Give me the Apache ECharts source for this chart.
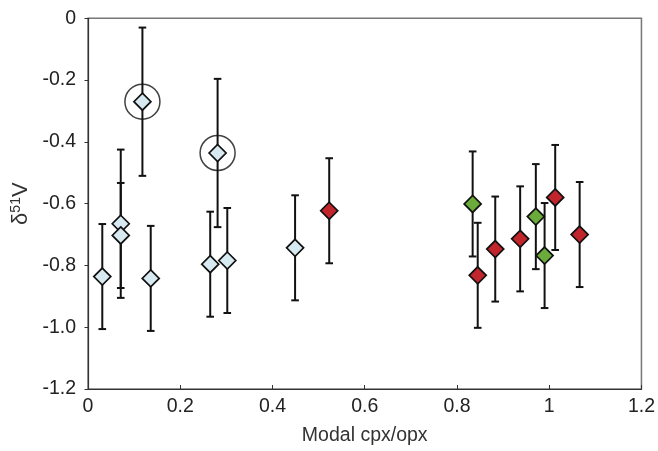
<!DOCTYPE html>
<html>
<head>
<meta charset="utf-8">
<script src="https://cdn.jsdelivr.net/npm/echarts@6/dist/echarts.min.js"></script>
<style>html,body{margin:0;padding:0;background:#fff}#c{width:658px;height:451px}</style>
</head>
<body>
<div id="c"></div>
<script>
// Light blue group
var blueX = [0.031, 0.071, 0.071, 0.118, 0.136, 0.265, 0.281, 0.302, 0.449];
var blueY = [-0.836, -0.665, -0.703, -0.270, -0.842, -0.796, -0.436, -0.784, -0.743];
var blueErr = [0.17, 0.24, 0.17, 0.24, 0.17, 0.17, 0.24, 0.17, 0.17];
// Red group
var redX = [0.523, 0.845, 0.883, 0.937, 1.013, 1.066];
var redY = [-0.623, -0.832, -0.747, -0.714, -0.580, -0.700];
var redErr = [0.17, 0.17, 0.17, 0.17, 0.17, 0.17];
// Green group
var greenX = [0.834, 0.971, 0.990];
var greenY = [-0.601, -0.642, -0.768];
var greenErr = [0.17, 0.17, 0.17];
// Circled points
var circledX = [0.118, 0.281];
var circledY = [-0.270, -0.436];
// Axis ticks
var xTicks = [0, 0.2, 0.4, 0.6, 0.8, 1, 1.2];
var yTicks = [-1.2, -1.0, -0.8, -0.6, -0.4, -0.2, 0];

function pts(xs, ys) { return xs.map(function (x, i) { return [x, ys[i]]; }); }
function errs(xs, ys, es) { return xs.map(function (x, i) { return [x, ys[i] - es[i], ys[i] + es[i]]; }); }

var allErr = errs(blueX, blueY, blueErr).concat(errs(redX, redY, redErr), errs(greenX, greenY, greenErr));

var chart = echarts.init(document.getElementById('c'), null, { renderer: 'canvas' });
var font = 'Liberation Sans, Arial, sans-serif';
chart.setOption({
  animation: false,
  grid: { left: 88, right: 14.5, top: 18.3, bottom: 59.3, show: true, borderColor: '#777', borderWidth: 1.5, backgroundColor: 'transparent' },
  xAxis: {
    type: 'value', min: xTicks[0], max: xTicks[xTicks.length - 1], interval: 0.2,
    name: 'Modal cpx/opx', nameLocation: 'middle', nameGap: 37,
    nameTextStyle: { fontSize: 19.5, color: '#333', fontFamily: font },
    axisLine: { show: true, onZero: false, lineStyle: { color: '#333', width: 1.2 } },
    axisTick: { show: true, inside: true, length: 4, lineStyle: { color: '#333' } },
    axisLabel: { fontSize: 19.5, color: '#222', fontFamily: font, margin: 8 },
    splitLine: { show: false }
  },
  yAxis: {
    type: 'value', min: yTicks[0], max: yTicks[yTicks.length - 1], interval: 0.2,
    name: '{d|δ}{s|51}{d|V}', nameLocation: 'middle', nameGap: 49,
    nameTextStyle: {
      color: '#333', fontFamily: font,
      rich: {
        d: { fontSize: 22, color: '#333', fontFamily: font },
        s: { fontSize: 14, color: '#333', fontFamily: font, verticalAlign: 'top', padding: [0, 0, 9, 0] }
      }
    },
    axisLine: { show: true, onZero: false, lineStyle: { color: '#333', width: 1.2 } },
    axisTick: { show: true, inside: false, length: 3.5, lineStyle: { color: '#333' } },
    axisLabel: {
      fontSize: 19.5, color: '#222', fontFamily: font, margin: 12,
      formatter: function (v) { return Math.abs(v) < 1e-9 ? '0' : v.toFixed(1); }
    },
    splitLine: { show: false }
  },
  series: [
    {
      type: 'custom', data: allErr, z: 2,
      renderItem: function (params, api) {
        var x = api.value(0);
        var lo = api.coord([x, api.value(1)]);
        var hi = api.coord([x, api.value(2)]);
        var hw = 3.8;
        var st = { stroke: '#111', lineWidth: 2, fill: null };
        return {
          type: 'group', children: [
            { type: 'line', shape: { x1: lo[0], y1: lo[1], x2: hi[0], y2: hi[1] }, style: st },
            { type: 'line', shape: { x1: lo[0] - hw, y1: lo[1], x2: lo[0] + hw, y2: lo[1] }, style: st },
            { type: 'line', shape: { x1: hi[0] - hw, y1: hi[1], x2: hi[0] + hw, y2: hi[1] }, style: st }
          ]
        };
      }
    },
    {
      type: 'scatter', data: pts(circledX, circledY), symbol: 'circle', symbolSize: 35, z: 3,
      itemStyle: { color: 'rgba(0,0,0,0)', borderColor: '#111', borderWidth: 1.5 }, silent: true
    },
    {
      type: 'scatter', data: pts(blueX, blueY), symbol: 'diamond', symbolSize: 17, z: 4,
      itemStyle: { color: '#d8eaf1', borderColor: '#111', borderWidth: 1.7, opacity: 1 }
    },
    {
      type: 'scatter', data: pts(redX, redY), symbol: 'diamond', symbolSize: 17, z: 4,
      itemStyle: { color: '#c0262c', borderColor: '#111', borderWidth: 1.7, opacity: 1 }
    },
    {
      type: 'scatter', data: pts(greenX, greenY), symbol: 'diamond', symbolSize: 17, z: 4,
      itemStyle: { color: '#6aab3c', borderColor: '#111', borderWidth: 1.7, opacity: 1 }
    }
  ]
});
</script>
</body>
</html>
